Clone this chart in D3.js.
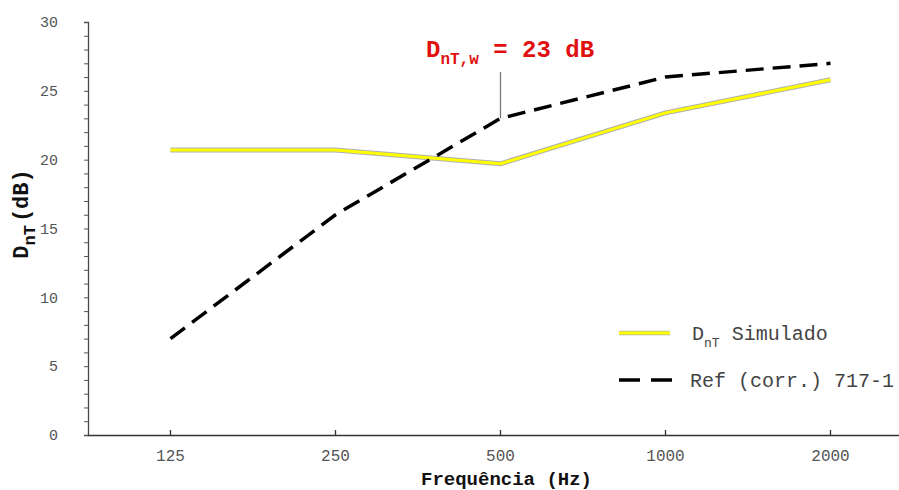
<!DOCTYPE html>
<html>
<head>
<meta charset="utf-8">
<script src="https://cdn.jsdelivr.net/npm/d3@7"></script>
<style>
  body { margin: 0; background: #fff; }
  svg { display: block; }
</style>
</head>
<body>
<div id="draw"></div>
<script>
// values
let freqs = ['125', '250', '500', '1000', '2000'];
let simulado = [20.7, 20.7, 19.7, 23.4, 25.8];
let refCorr = [7, 16, 23, 26, 27];
let yTicks = d3.range(0, 31, 1);
let ratedValue = 23;   // DnT,w
let ratedFreq = '500';

let width = 899,
    height = 490,
    margin = { top: 22, left: 88, bottom: 55, right: -14 };

let svg = d3.select('#draw')
    .append('svg')
    .attr('width', width)
    .attr('height', height);

let mono = 'Liberation Mono, DejaVu Sans Mono, monospace';

let xScale = d3.scaleBand().domain(freqs).range([margin.left, width - margin.right]),
    yScale = d3.scaleLinear().domain([0, 30]).range([height - margin.bottom, margin.top]);
let xc = f => xScale(f) + xScale.bandwidth() / 2;

// y axis
let yAxis = svg.append('g')
    .attr('transform', 'translate(' + margin.left + ',0)')
    .call(d3.axisLeft(yScale).tickValues(yTicks).tickSize(4).tickPadding(26)
        .tickFormat(d => d % 5 == 0 ? d : ''));
yAxis.select('.domain').attr('stroke', '#444').attr('stroke-width', 1.3);
yAxis.selectAll('.tick line').attr('stroke', '#555');
yAxis.selectAll('text').attr('font-family', mono).attr('font-size', 15).attr('fill', '#555');

// x axis
let xAxis = svg.append('g')
    .attr('transform', 'translate(0,' + yScale(0) + ')')
    .call(d3.axisBottom(xScale).tickSizeInner(-5).tickSizeOuter(0).tickPadding(15));
xAxis.select('.domain').attr('stroke', '#333').attr('stroke-width', 1.6);
xAxis.selectAll('.tick line').attr('stroke', '#333').attr('stroke-width', 1.3);
xAxis.selectAll('text').attr('font-family', mono).attr('font-size', 16).attr('fill', '#555');

// axis titles
svg.append('text')
    .attr('x', xc('500') + 6)
    .attr('y', 485)
    .attr('text-anchor', 'middle')
    .attr('font-family', mono).attr('font-weight', 'bold').attr('font-size', 19)
    .attr('fill', '#111')
    .text('Frequência (Hz)');

let yTitle = svg.append('text')
    .attr('transform', 'translate(28,' + 214 + ') rotate(-90)')
    .attr('text-anchor', 'middle')
    .attr('font-family', mono).attr('font-weight', 'bold').attr('font-size', 22)
    .attr('fill', '#111');
yTitle.append('tspan').text('D');
yTitle.append('tspan').attr('font-size', 17).attr('dy', 7).text('nT');
yTitle.append('tspan').attr('dy', -7).attr('dx', 3).text('(dB)');

// lines
let line = d3.line().x((d, i) => xc(freqs[i])).y(d => yScale(d));

svg.append('path')
    .datum(simulado)
    .attr('d', line)
    .attr('fill', 'none')
    .attr('stroke', '#b0b0b0')
    .attr('stroke-width', 5);
svg.append('path')
    .datum(simulado)
    .attr('d', line)
    .attr('fill', 'none')
    .attr('stroke', '#ffff00')
    .attr('stroke-width', 3);

svg.append('path')
    .datum(refCorr)
    .attr('d', line)
    .attr('fill', 'none')
    .attr('stroke', '#000')
    .attr('stroke-width', 3.5)
    .attr('stroke-dasharray', '18,9');

// DnT,w annotation
let ax = xc(ratedFreq);
svg.append('line')
    .attr('x1', ax).attr('x2', ax)
    .attr('y1', 72).attr('y2', yScale(ratedValue))
    .attr('stroke', '#777').attr('stroke-width', 1.3);

let ann = svg.append('text')
    .attr('x', 426)
    .attr('y', 57)
    .attr('font-family', mono).attr('font-weight', 'bold').attr('font-size', 24)
    .attr('fill', '#e01010');
ann.append('tspan').text('D');
ann.append('tspan').attr('font-size', 16).attr('dy', 7).text('nT,w');
ann.append('tspan').attr('dy', -7).text(' = ' + ratedValue + ' dB');

// legend
let legend = svg.append('g');
legend.append('line')
    .attr('x1', 619).attr('x2', 670).attr('y1', 333).attr('y2', 333)
    .attr('stroke', '#b0b0b0').attr('stroke-width', 4.5);
legend.append('line')
    .attr('x1', 619).attr('x2', 670).attr('y1', 333).attr('y2', 333)
    .attr('stroke', '#ffff00').attr('stroke-width', 2.8);
let l1 = legend.append('text')
    .attr('x', 692).attr('y', 340)
    .attr('font-family', mono).attr('font-size', 20).attr('fill', '#444');
l1.append('tspan').text('D');
l1.append('tspan').attr('font-size', 13).attr('dy', 7).text('nT');
l1.append('tspan').attr('dy', -7).text(' Simulado');

legend.append('line')
    .attr('x1', 619).attr('x2', 672).attr('y1', 380).attr('y2', 380)
    .attr('stroke', '#000').attr('stroke-width', 3.5)
    .attr('stroke-dasharray', '21,11');
legend.append('text')
    .attr('x', 690).attr('y', 387)
    .attr('font-family', mono).attr('font-size', 20).attr('fill', '#444')
    .text('Ref (corr.) 717-1');
</script>
</body>
</html>
